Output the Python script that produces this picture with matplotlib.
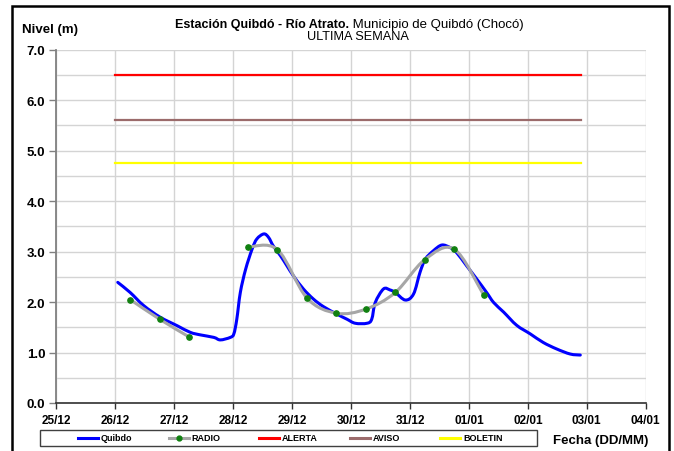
import numpy as np
import matplotlib
matplotlib.use("Agg")
import matplotlib.pyplot as plt
from matplotlib.path import Path
from matplotlib.patches import PathPatch, Rectangle
from matplotlib.lines import Line2D

plt.rcParams['font.family'] = ['Liberation Sans', 'DejaVu Sans']

# Date ticks (days counted from 25/12 00:00)
date_labels = ['25/12', '26/12', '27/12', '28/12', '29/12', '30/12',
               '31/12', '01/01', '02/01', '03/01', '04/01']

# Quibdó gauge (automatic station)
quibdo_days = [1.04, 1.25, 1.48, 1.76, 2.05, 2.27, 2.44, 2.67, 2.78, 2.95,
               3.01, 3.06, 3.12, 3.21, 3.32, 3.40, 3.52, 3.60, 3.68, 3.80,
               3.91, 4.02, 4.19, 4.36, 4.53, 4.76, 4.93, 5.07, 5.27, 5.35,
               5.41, 5.55, 5.66, 5.75, 5.92, 6.06, 6.17, 6.26, 6.40, 6.54,
               6.68, 6.79, 6.96, 7.13, 7.30, 7.42, 7.59, 7.81, 8.04, 8.26,
               8.49, 8.72, 8.89]
quibdo_level = [2.39, 2.19, 1.93, 1.70, 1.53, 1.40, 1.35, 1.30, 1.25, 1.30,
                1.37, 1.66, 2.19, 2.65, 3.05, 3.25, 3.35, 3.28, 3.11, 2.92,
                2.72, 2.52, 2.26, 2.06, 1.91, 1.76, 1.66, 1.58, 1.58, 1.66,
                1.99, 2.26, 2.24, 2.19, 2.04, 2.16, 2.59, 2.85, 3.02, 3.13,
                3.08, 2.98, 2.72, 2.46, 2.19, 1.99, 1.80, 1.54, 1.37, 1.20,
                1.07, 0.97, 0.95]

# Radio reports (every 12 h, one missing report)
radio_days = [1.25, 1.75, 2.25, 2.75, 3.25, 3.75, 4.25, 4.75, 5.25, 5.75,
              6.25, 6.75, 7.25]
radio_level = [2.05, 1.66, 1.31, np.nan, 3.09, 3.04, 2.08, 1.78, 1.86, 2.19,
               2.84, 3.05, 2.14]

# Warning thresholds
alerta_level = 6.5
aviso_level = 5.6
boletin_level = 4.75
threshold_start = 1.0
threshold_end = 8.9

W, H = 674, 452


def smooth_path(xs, ys):
    """Cubic Bezier path through the points, broken at NaN values."""
    xs = np.asarray(xs, float)
    ys = np.asarray(ys, float)
    verts, codes = [], []
    ok = ~np.isnan(ys)
    runs, cur = [], []
    for i in range(len(xs)):
        if ok[i]:
            cur.append(i)
        elif cur:
            runs.append(cur)
            cur = []
    if cur:
        runs.append(cur)
    for run in runs:
        p = np.column_stack([xs[run], ys[run]])
        n = len(p)
        verts.append(p[0])
        codes.append(Path.MOVETO)
        for i in range(n - 1):
            p0 = p[max(i - 1, 0)]
            p1 = p[i]
            p2 = p[i + 1]
            p3 = p[min(i + 2, n - 1)]
            c1 = p1 + (p2 - p0) / 6.0
            c2 = p2 - (p3 - p1) / 6.0
            verts.extend([c1, c2, p2])
            codes.extend([Path.CURVE4] * 3)
    return Path(np.array(verts), codes)


fig = plt.figure(figsize=(W / 100, H / 100), dpi=100)
fig.patch.set_facecolor('white')

ax_l, ax_r, ax_t, ax_b = 56.5, 645.7, 50.7, 404.0
ax = fig.add_axes([ax_l / W, 1 - ax_b / H, (ax_r - ax_l) / W, (ax_b - ax_t) / H])

# grid
ax.set_xticks(range(len(date_labels)))
ax.set_xticklabels(date_labels, fontsize=8.5, fontweight='bold')
ax.set_yticks(np.arange(0, 7.01, 1.0))
ax.set_yticklabels([f'{v:.1f}' for v in np.arange(0, 7.01, 1.0)],
                   fontsize=9.5, fontweight='bold')
ax.set_yticks(np.arange(0.5, 7.0, 1.0), minor=True)
ax.grid(True, which='both', color='#d4d4d4', lw=1.0)
ax.set_axisbelow(True)
ax.tick_params(axis='y', which='major', length=5, width=1, color='#808080', pad=3)
ax.tick_params(axis='y', which='minor', length=0)
ax.tick_params(axis='x', which='major', length=4, width=1, color='#303030', pad=4)

for s in ['top', 'right']:
    ax.spines[s].set_visible(False)
ax.spines['left'].set_color('#808080')
ax.spines['left'].set_linewidth(1.3)
ax.spines['bottom'].set_color('#303030')
ax.spines['bottom'].set_linewidth(1.2)

# thresholds
ax.plot([threshold_start, threshold_end], [alerta_level] * 2, color='#ff0000', lw=1.6)
ax.plot([threshold_start, threshold_end], [aviso_level] * 2, color='#9b6b6b', lw=1.6)
ax.plot([threshold_start, threshold_end], [boletin_level] * 2, color='#ffff00', lw=1.6)

# series
ax.add_patch(PathPatch(smooth_path(quibdo_days, quibdo_level), fill=False,
                       edgecolor='#0000ff', lw=2.2, capstyle='round',
                       joinstyle='round', zorder=3))
ax.add_patch(PathPatch(smooth_path(radio_days, radio_level), fill=False,
                       edgecolor='#a6a6a6', lw=2.2, capstyle='round',
                       joinstyle='round', zorder=4))
ax.plot(radio_days, radio_level, ls='none', marker='o', ms=3.8,
        color='#108010', zorder=5)
ax.set_xlim(0, 10)
ax.set_ylim(0, 7)


def fx(px):
    return px / W


def fy(py):
    return 1 - py / H


# titles
fig.text(fx(349), fy(28), 'Estación Quibdó - Río Atrato.', ha='right',
         va='baseline', fontsize=9.0, fontweight='bold')
fig.text(fx(349), fy(28), ' Municipio de Quibdó (Chocó)', ha='left',
         va='baseline', fontsize=9.5)
fig.text(fx(357.5), fy(40.5), 'ULTIMA SEMANA', ha='center', va='baseline',
         fontsize=9.2)
fig.text(fx(22.5), fy(33.5), 'Nivel (m)', ha='left', va='baseline',
         fontsize=9.5, fontweight='bold')
fig.text(fx(601), fy(444), 'Fecha (DD/MM)', ha='center', va='baseline',
         fontsize=9.5, fontweight='bold')

# legend
fig.add_artist(Rectangle((fx(39.5), fy(446.5)), (537 - 39.5) / W, 16 / H,
                         transform=fig.transFigure, fill=False,
                         edgecolor='#404040', lw=1.0))
legend_items = [
    ('Quibdo', '#0000ff', None),
    ('RADIO', '#a6a6a6', '#108010'),
    ('ALERTA', '#ff0000', None),
    ('AVISO', '#9b6b6b', None),
    ('BOLETIN', '#ffff00', None),
]
for i, (name, col, mk) in enumerate(legend_items):
    x0 = 78 + i * 90.5
    ly = fy(438.5)
    fig.add_artist(Line2D([fx(x0), fx(x0 + 20)], [ly, ly], color=col,
                          lw=2.2, transform=fig.transFigure))
    if mk:
        fig.add_artist(Line2D([fx(x0 + 10)], [ly], marker='o', ms=3.5,
                              color=mk, ls='none', transform=fig.transFigure))
    fig.text(fx(x0 + 23), ly, name, ha='left', va='center', fontsize=6.5,
             fontweight='bold')

# outer frame
fig.add_artist(Rectangle((fx(12), -0.1), (669 - 12) / W, 1.1 - 7 / H,
                         transform=fig.transFigure, fill=False,
                         edgecolor='black', lw=1.8))

fig.savefig('out.png', dpi=100)
